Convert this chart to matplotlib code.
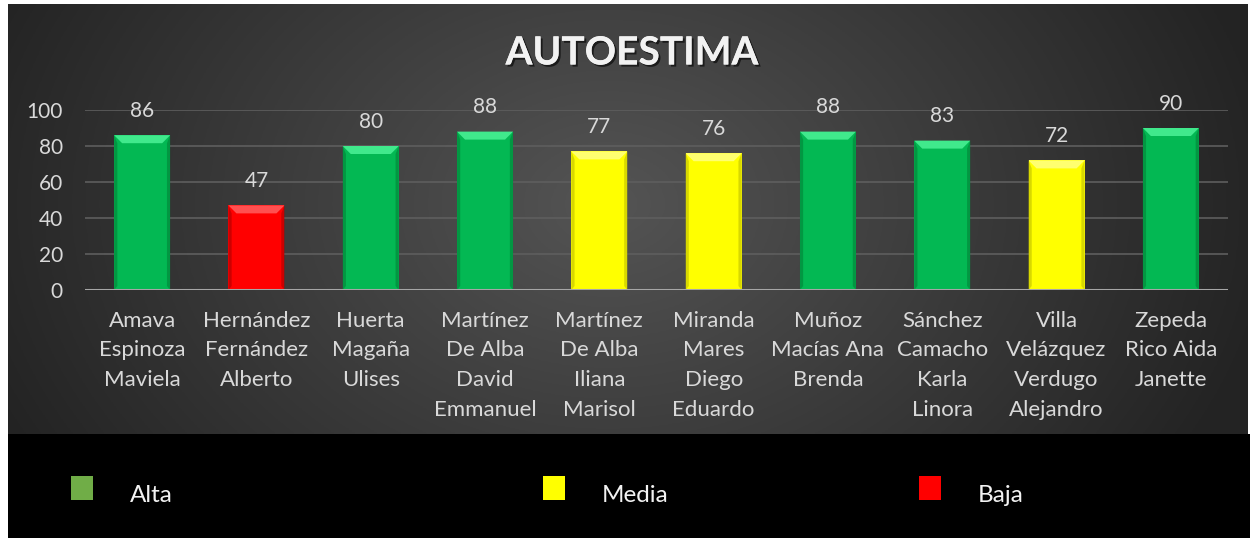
import numpy as np
import matplotlib
matplotlib.use("Agg")
import matplotlib.pyplot as plt
from matplotlib.patches import Rectangle, Polygon
import matplotlib.patheffects as pe

# data
names = [
    "Amava\nEspinoza\nMaviela",
    "Hernández\nFernández\nAlberto",
    "Huerta\nMagaña\nUlises",
    "Martínez\nDe Alba\nDavid\nEmmanuel",
    "Martínez\nDe Alba\nIliana\nMarisol",
    "Miranda\nMares\nDiego\nEduardo",
    "Muñoz\nMacías Ana\nBrenda",
    "Sánchez\nCamacho\nKarla\nLinora",
    "Villa\nVelázquez\nVerdugo\nAlejandro",
    "Zepeda\nRico Aida\nJanette",
]
scores = [86, 47, 80, 88, 77, 76, 88, 83, 72, 90]
levels = ["Alta", "Baja", "Alta", "Alta", "Media", "Media", "Alta", "Alta", "Media", "Alta"]
y_ticks = [0, 20, 40, 60, 80, 100]

legend_labels = ["Alta", "Media", "Baja"]
legend_colors = ["#70AD47", "#FFFF00", "#FF0000"]

# bar shading per level: (face, top bevel, side bevel)
bar_shades = {
    "Alta": ("#03B853", "#40E98C", "#028A3C"),
    "Media": ("#FFFF00", "#FFFF70", "#C8C800"),
    "Baja": ("#FF0000", "#FF5050", "#B80000"),
}

plt.rcParams['font.family'] = ['Lato', 'DejaVu Sans']

W, H = 1252, 538
fig = plt.figure(figsize=(W / 100, H / 100), dpi=100)
fig.patch.set_facecolor("white")

# dark radial background of the chart panel
bg = fig.add_axes([8 / W, (H - 434) / H, 1240 / W, 430 / H])
gx, gy = np.meshgrid(np.linspace(0, 1240, 400), np.linspace(0, 430, 200))
r = np.sqrt(((gx - 600) / 700) ** 2 + ((gy - 200) / 520) ** 2)
shade = np.clip(0.33 - 0.2 * r, 0.14, 0.33)
bg.imshow(np.dstack([shade] * 3), extent=(0, 1240, 430, 0), aspect="auto")
bg.set_axis_off()

# black legend band
fig.add_artist(Rectangle((8 / W, 0), 1242 / W, (H - 434) / H,
                         transform=fig.transFigure, facecolor="black", edgecolor="none"))

ax = fig.add_axes([85 / W, (H - 290) / H, 1143 / W, 180 / H])
ax.patch.set_alpha(0)
ax.set_xlim(-0.5, len(scores) - 0.5)
ax.set_ylim(0, 100)

for s in ax.spines.values():
    s.set_visible(False)
for t in y_ticks[1:]:
    ax.axhline(t, color="#5E5E5E", lw=1.2, zorder=0)

width = 0.49
px_x = 114.3  # pixels per category
px_y = 1.8    # pixels per unit
for i, (v, lev) in enumerate(zip(scores, levels)):
    face, top, side = bar_shades[lev]
    x0, x1 = i - width / 2, i + width / 2
    ax.add_patch(Rectangle((x0, 0), width, v, facecolor=face, edgecolor="none", zorder=2))
    dx = 8 / px_x
    dy = 8 / px_y
    db = 4 / px_y
    ax.add_patch(Polygon([(x0, v), (x1, v), (x1 - dx, v - dy), (x0 + dx, v - dy)],
                         closed=True, facecolor=top, edgecolor="none", zorder=3))
    ax.add_patch(Polygon([(x0, 0), (x0 + dx * 0.4, db), (x0 + dx * 0.4, v - dy), (x0, v)],
                         closed=True, facecolor=side, edgecolor="none", zorder=3, alpha=0.7))
    ax.add_patch(Polygon([(x1, 0), (x1 - dx * 0.4, db), (x1 - dx * 0.4, v - dy), (x1, v)],
                         closed=True, facecolor=side, edgecolor="none", zorder=3, alpha=0.7))
    ax.annotate(str(v), (i, v), xytext=(0, 17.5), textcoords="offset points",
                ha="center", va="center", fontsize=15, color="#D9D9D9",
                annotation_clip=False, zorder=4)

ax.axhline(0, color="#A6A6A6", lw=2.2, zorder=4)

ax.set_yticks(y_ticks)
ax.set_yticklabels([str(t) for t in y_ticks], fontsize=15, color="#D9D9D9")
ax.set_xticks(range(len(names)))
ax.set_xticklabels(names, fontsize=16, color="#D9D9D9", linespacing=1.6, va="top")
ax.tick_params(axis="y", length=0, pad=16)
ax.tick_params(axis="x", length=0, pad=15)

fig.text(632 / W, 1 - 53 / H, "AUTOESTIMA", ha="center", va="center",
         fontsize=28, fontweight="bold", color="#F2F2F2",
         path_effects=[pe.withSimplePatchShadow(offset=(1.5, -1.5), shadow_rgbFace="black", alpha=0.6),
                       pe.Normal()])

# legend in the black band
leg_x = [71, 543, 919]
for lx, lab, col in zip(leg_x, legend_labels, legend_colors):
    fig.add_artist(Rectangle((lx / W, 1 - 500 / H), 22 / W, 24 / H,
                             transform=fig.transFigure, facecolor=col, edgecolor="none"))
    fig.text((lx + 59) / W, 1 - 495 / H, lab, ha="left", va="center",
             fontsize=17.5, color="#F2F2F2")

fig.savefig("out.png", dpi=100)
